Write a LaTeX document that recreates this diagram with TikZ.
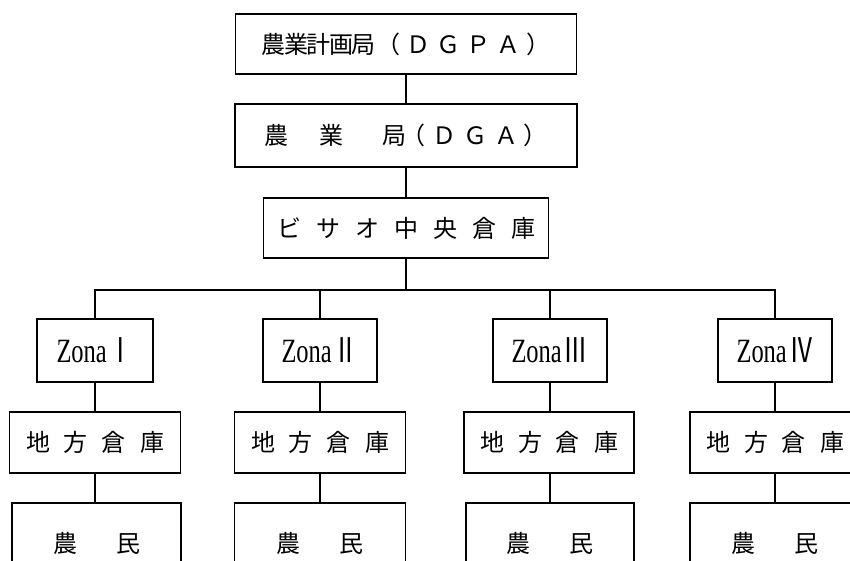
\documentclass[tikz,border=0pt]{standalone}
\usepackage{fontspec}
\usepackage{graphicx}
\newfontfamily\jp{Noto Sans CJK JP}
\newfontfamily\zf{Liberation Serif}
\newcommand\gp[1]{\hspace{#1pt}}
\newcommand\zona[1]{\scalebox{0.72}[1]{\zf\fontsize{34}{34}\selectfont Zona\gp{3}{\jp #1}}}
\tikzset{
  box/.style={draw, line width=1.3pt, inner sep=0pt, anchor=center,
    font=\jp\fontsize{24}{24}\selectfont},
  link/.style={line width=1.3pt},
}
\begin{document}
\begin{tikzpicture}[x=1pt,y=-1pt]
\useasboundingbox (0,0) rectangle (850,560);
\clip (0,0) rectangle (850,560);
% top chain
\node[box, minimum width=341pt, minimum height=60pt] (dgpa) at (406,44)
  {農\gp{-1.5}業\gp{-1.5}計\gp{-1.5}画\gp{-1.5}局\gp{1}（\gp{6}Ｄ\gp{6}Ｇ\gp{6}Ｐ\gp{6}Ａ\gp{6}）};
\node[box, minimum width=342pt, minimum height=63pt] (dga) at (406,135.5)
  {農\gp{31}業\gp{39}局\gp{-5}（\gp{7}Ｄ\gp{7}Ｇ\gp{7}Ａ\gp{5}）};
\node[box, minimum width=285pt, minimum height=60pt] (bissau) at (406,228)
  {ビ\gp{15}サ\gp{15}オ\gp{15}中\gp{15}央\gp{15}倉\gp{15}庫};
\coordinate (j) at (406,290);
% zones
\node[box, minimum width=116pt, minimum height=63pt] (z1) at (95,350.5) {\zona{Ⅰ}};
\node[box, minimum width=114pt, minimum height=63pt] (z2) at (320,350.5) {\zona{Ⅱ}};
\node[box, minimum width=114pt, minimum height=63pt] (z3) at (550,350.5) {\zona{Ⅲ}};
\node[box, minimum width=114pt, minimum height=63pt] (z4) at (775,350.5) {\zona{Ⅳ}};
% local warehouses
\node[box, minimum width=171pt, minimum height=61pt] (w1) at (95,442.5) {地\gp{14}方\gp{14}倉\gp{14}庫};
\node[box, minimum width=171pt, minimum height=61pt] (w2) at (320,442.5) {地\gp{14}方\gp{14}倉\gp{14}庫};
\node[box, minimum width=170pt, minimum height=61pt] (w3) at (549,442.5) {地\gp{14}方\gp{14}倉\gp{14}庫};
\node[box, minimum width=170pt, minimum height=61pt] (w4) at (775,442.5) {地\gp{14}方\gp{14}倉\gp{14}庫};
% farmers (cut off at the lower edge)
\node[box, minimum width=169pt, minimum height=80pt] (f1) at (96.5,543) {農\gp{39}民};
\node[box, minimum width=171pt, minimum height=80pt] (f2) at (320,543) {農\gp{39}民};
\node[box, minimum width=168pt, minimum height=80pt] (f3) at (550,543) {農\gp{39}民};
\node[box, minimum width=170pt, minimum height=80pt] (f4) at (775,543) {農\gp{39}民};
% connectors
\draw[link] (dgpa.south) -- (dga.north);
\draw[link] (dga.south) -- (bissau.north);
\draw[link] (bissau.south) -- (j);
\draw[link] (z1.north) |- (j) -| (z4.north);
\draw[link] (z2.north) -- (z2.north |- j);
\draw[link] (z3.north) -- (z3.north |- j);
\draw[link] (z1.south) -- (w1.north -| z1.south);
\draw[link] (z2.south) -- (w2.north -| z2.south);
\draw[link] (z3.south) -- (w3.north -| z3.south);
\draw[link] (z4.south) -- (w4.north -| z4.south);
\draw[link] (w1.south -| z1.south) -- (f1.north -| z1.south);
\draw[link] (w2.south -| z2.south) -- (f2.north -| z2.south);
\draw[link] (w3.south -| z3.south) -- (f3.north -| z3.south);
\draw[link] (w4.south -| z4.south) -- (f4.north -| z4.south);
\end{tikzpicture}
\end{document}
